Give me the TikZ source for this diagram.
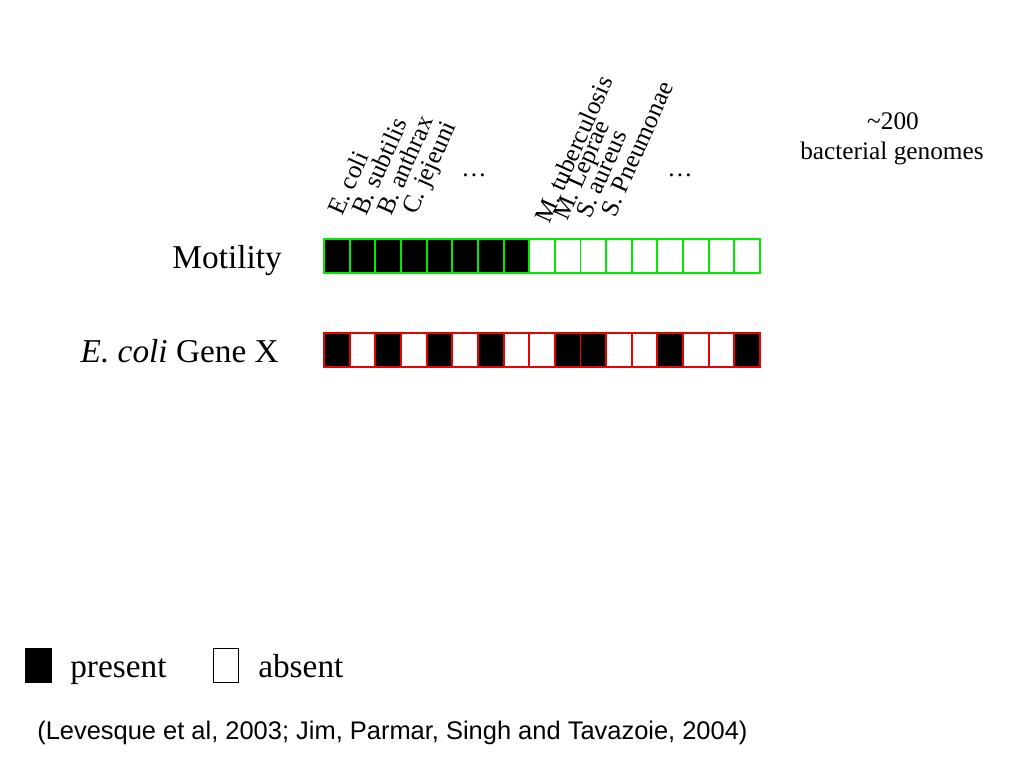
\documentclass[tikz,border=0pt]{standalone}
\usepackage{fontspec}
\setmainfont{Liberation Serif}
\newfontfamily\arial{Liberation Sans}
\definecolor{vert}{RGB}{0,235,0}
\definecolor{rouge}{RGB}{235,0,0}
\tikzset{
    case/.style={draw, line width=1.4pt, inner sep=0pt, minimum width=0.641cm, minimum height=0.85cm},
    espece/.style={rotate=66, anchor=base west, inner sep=0pt, font=\fontsize{18}{20}\selectfont},
    titre/.style={inner sep=0pt, font=\fontsize{23.7}{28}\selectfont},
    petit/.style={inner sep=0pt, font=\fontsize{18}{20}\selectfont}
}
\begin{document}
\begin{tikzpicture}[x=0.025cm, y=-0.025cm]
    \useasboundingbox (0,0) rectangle (1024,768);

    % Noms des espèces
    \foreach \x/\y/\nom [count=\k] in {342/217/E. coli, 366/217/B. subtilis, 391/217/B. anthrax, 416/216/C. jejeuni,
        549/225/M. tuberculosis, 567/222/M. Leprae, 590/220/S. aureus, 615/219/S. Pneumonae} {
        \node[espece] (e\k) at (\x,\y) {\nom};
    }
    \node[petit, anchor=base] (p1) at (474,177) {\dots};
    \node[petit, anchor=base] (p2) at (680,177) {\dots};

    % Nombre de génomes
    \node[petit, anchor=base] (nb) at (893,130) {\textasciitilde200};
    \node[petit, anchor=base] (gen) at (892,159) {bacterial genomes};

    % Étiquettes des lignes
    \node[titre, anchor=base east] (mot) at (282,268) {Motility};
    \node[titre, anchor=base east] (gx) at (279,362) {\textit{E. coli} Gene X};

    % Ligne verte : motilité
    \foreach \f [count=\i] in {black,black,black,black,black,black,black,black,
        white,white,white,white,white,white,white,white,white} {
        \node[case, draw=vert, fill=\f] (M\i) at ({324+(\i-0.5)*25.65},255.9) {};
    }

    % Ligne rouge : gène X
    \foreach \f [count=\i] in {black,white,black,white,black,white,black,white,white,
        black,black,white,white,black,white,white,black} {
        \node[case, draw=rouge, fill=\f] (G\i) at ({324+(\i-0.5)*25.65},349.7) {};
    }

    % Légende
    \fill[black] (25,648) rectangle (52,683);
    \draw[line width=0.7pt] (213,648.5) rectangle (238.5,682.5);
    \node[titre, anchor=base west] (pres) at (70,677) {present};
    \node[titre, anchor=base west] (abs) at (258,677) {absent};

    % Référence
    \node[inner sep=0pt, anchor=base west, font=\arial\fontsize{18.1}{20}\selectfont] (ref) at (37,739)
        {(Levesque et al, 2003; Jim, Parmar, Singh and Tavazoie, 2004)};

\end{tikzpicture}
\end{document}
